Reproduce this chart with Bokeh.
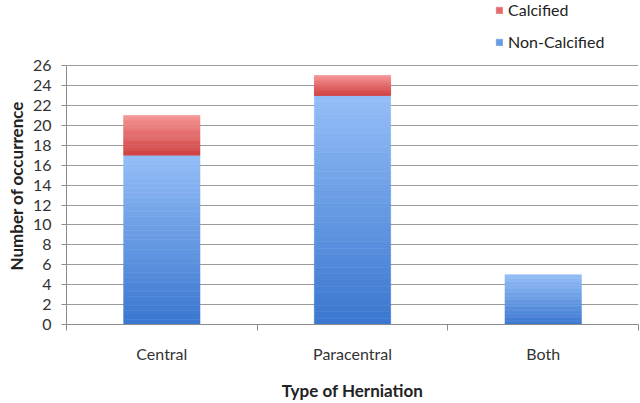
from bokeh.plotting import figure
from bokeh.models import (ColumnDataSource, Range1d, FixedTicker, Legend, LegendItem, Title)
from bokeh.embed import file_html
from bokeh.resources import INLINE

categories = ["Central", "Paracentral", "Both"]
non_calcified = [17, 23, 5]
calcified = [4, 2, 0]
y_ticks = [0, 2, 4, 6, 8, 10, 12, 14, 16, 18, 20, 22, 24, 26]

xpos = [i + 0.5 for i in range(len(categories))]
bottom_red = non_calcified
top_red = [a + b for a, b in zip(non_calcified, calcified)]


def lerp_color(c_bottom, c_top, f):
    a = [int(c_bottom[i:i + 2], 16) for i in (1, 3, 5)]
    b = [int(c_top[i:i + 2], 16) for i in (1, 3, 5)]
    return "#%02x%02x%02x" % tuple(round(a[j] + (b[j] - a[j]) * f) for j in range(3))


def gradient_source(xs, bottoms, tops, c_bottom, c_top, n=36):
    # split each stacked segment into thin slices to imitate a vertical gradient
    d = dict(x=[], b=[], t=[], c=[])
    mid = 0
    for k in range(n):
        for x, b0, t0 in zip(xs, bottoms, tops):
            h = t0 - b0
            if h <= 0:
                continue
            if k == n // 2 and mid == 0:
                mid = len(d["x"])
            d["x"].append(x)
            d["b"].append(b0 + h * k / n)
            d["t"].append(b0 + h * (k + 1) / n)
            d["c"].append(lerp_color(c_bottom, c_top, (k + 0.5) / n))
    return ColumnDataSource(d), mid


FONT = "Lato"
p = figure(width=640, height=403, output_backend="svg", toolbar_location=None,
           x_range=Range1d(0, 3), y_range=Range1d(0, 32.54),
           min_border_left=66, min_border_right=2, min_border_top=0,
           min_border_bottom=77)
p.outline_line_color = None
p.background_fill_color = "white"
p.border_fill_color = "white"

src_nc, mid_nc = gradient_source(xpos, [0] * len(xpos), non_calcified, "#3a76cf", "#94bef7")
src_c, mid_c = gradient_source(xpos, bottom_red, top_red, "#cf3f3f", "#f59494")

r_nc = p.vbar(x="x", bottom="b", top="t", width=0.4, source=src_nc,
              fill_color="c", line_color="c", line_width=0.6)
r_c = p.vbar(x="x", bottom="b", top="t", width=0.4, source=src_c,
             fill_color="c", line_color="c", line_width=0.6)

# y axis
p.yaxis.ticker = FixedTicker(ticks=y_ticks)
p.yaxis.bounds = (0, y_ticks[-1])
p.yaxis.axis_line_color = "#8c8c8c"
p.yaxis.major_tick_line_color = "#8c8c8c"
p.yaxis.major_tick_out = 5
p.yaxis.major_tick_in = 0
p.yaxis.minor_tick_line_color = None
p.yaxis.major_label_standoff = 10
p.yaxis.major_label_text_font = FONT
p.yaxis.major_label_text_font_size = "16px"
p.yaxis.major_label_text_color = "#333333"

ytitle = Title(text="Number of occurrence", align="left", offset=54,
               text_font=FONT, text_font_size="17px", text_font_style="bold",
               text_color="#222222", standoff=6)
p.add_layout(ytitle, "left")

# x axis: labels at centres, tick marks at category boundaries
p.xaxis.ticker = FixedTicker(ticks=xpos, minor_ticks=list(range(len(categories) + 1)))
p.xaxis.major_label_overrides = {x: c for x, c in zip(xpos, categories)}
p.xaxis.major_tick_line_color = None
p.xaxis.major_tick_out = 6
p.xaxis.major_tick_in = 0
p.xaxis.minor_tick_line_color = "#8c8c8c"
p.xaxis.minor_tick_out = 6
p.xaxis.minor_tick_in = 0
p.xaxis.axis_line_color = "#8c8c8c"
p.xaxis.major_label_standoff = 13
p.xaxis.major_label_text_font = FONT
p.xaxis.major_label_text_font_size = "16px"
p.xaxis.major_label_text_color = "#333333"
p.xaxis.axis_label = "Type of Herniation"
p.xaxis.axis_label_text_font = FONT
p.xaxis.axis_label_text_font_size = "17px"
p.xaxis.axis_label_text_font_style = "bold"
p.xaxis.axis_label_text_color = "#222222"
p.xaxis.axis_label_standoff = 14

p.xgrid.grid_line_color = None
p.ygrid.ticker = FixedTicker(ticks=y_ticks)
p.ygrid.grid_line_color = "#9a9a9a"
p.ygrid.grid_line_width = 1

legend = Legend(items=[LegendItem(label="Calcified", renderers=[r_c], index=mid_c),
                       LegendItem(label="Non-Calcified", renderers=[r_nc], index=mid_nc)],
                location=(429, 273), orientation="vertical",
                glyph_width=8, glyph_height=8, label_height=18,
                spacing=13, padding=0, margin=0, border_line_color=None,
                background_fill_alpha=0, label_standoff=5,
                label_text_font=FONT, label_text_font_size="16px",
                label_text_color="#222222")
p.add_layout(legend, "center")

open("out.html", "w").write(file_html(p, INLINE))
